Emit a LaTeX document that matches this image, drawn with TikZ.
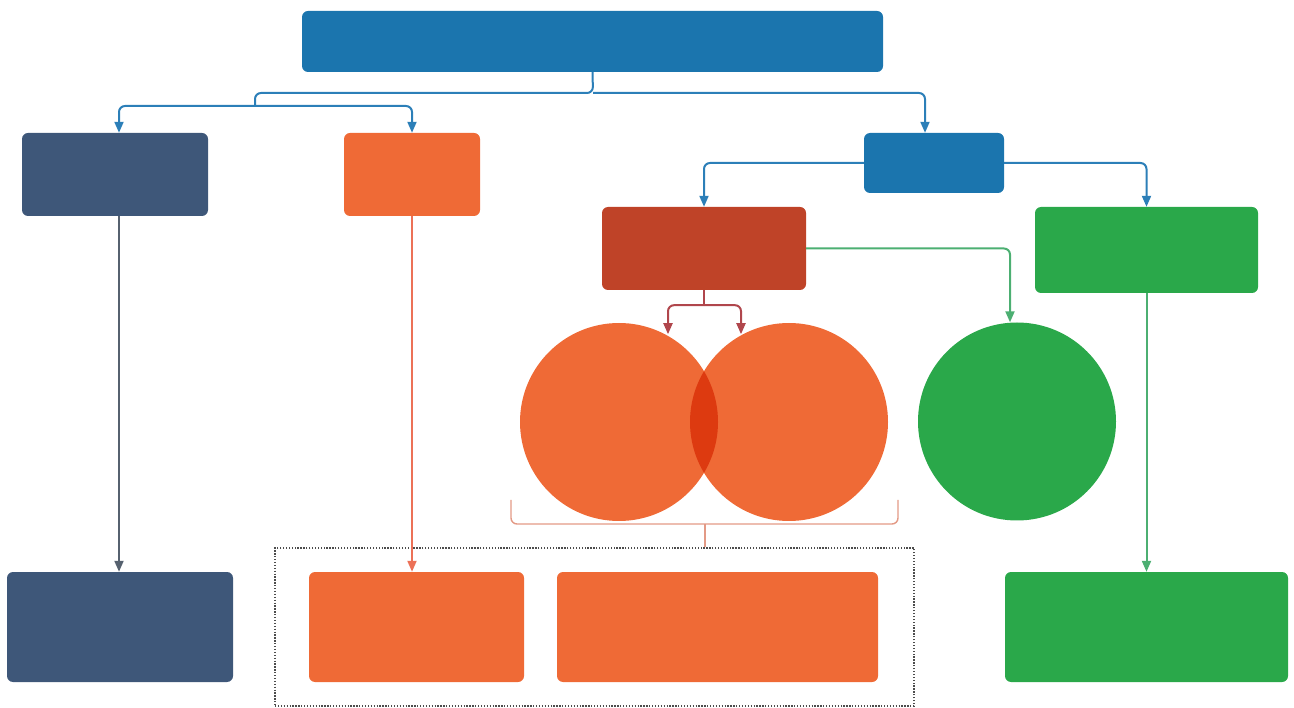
\documentclass[tikz,border=0pt]{standalone}
\usetikzlibrary{arrows.meta}
\definecolor{topblue}{HTML}{1B75AE}
\definecolor{slate}{HTML}{3E5779}
\definecolor{tang}{HTML}{EF6A36}
\definecolor{brick}{HTML}{BF4328}
\definecolor{leaf}{HTML}{2AA84A}
\definecolor{lens}{HTML}{DD3A10}
\definecolor{blueln}{HTML}{2C7FB8}
\definecolor{slateln}{HTML}{56616F}
\definecolor{tangln}{HTML}{EC7157}
\definecolor{leafln}{HTML}{4CAF72}
\definecolor{brickln}{HTML}{B0464C}
\definecolor{brackln}{HTML}{E39A86}
\tikzset{
  box/.style={rounded corners=6pt, inner sep=0pt},
  disc/.style={circle, inner sep=0pt, minimum size=198pt},
  link/.style={line width=2pt, rounded corners=6pt, -{Triangle[length=11pt,width=9pt]}},
  plain/.style={line width=2pt, rounded corners=6pt}
}
\begin{document}
\begin{tikzpicture}[x=1pt,y=-1pt]
\useasboundingbox (0,0) rectangle (1294,708);
% boxes
\node[box, fill=topblue, minimum width=581pt, minimum height=61pt] (top) at (592.5,41.5) {};
\node[box, fill=slate, minimum width=186pt, minimum height=83pt] (lft) at (115,174.5) {};
\node[box, fill=tang, minimum width=136pt, minimum height=83pt] (mid) at (412,174.5) {};
\node[box, fill=topblue, minimum width=140pt, minimum height=60pt] (hub) at (934,163) {};
\node[box, fill=brick, minimum width=204pt, minimum height=83pt] (red) at (704,248.5) {};
\node[box, fill=leaf, minimum width=223pt, minimum height=86pt] (grn) at (1146.5,250) {};
% circles
\node[disc, fill=tang] (circL) at (619,422) {};
\node[disc, fill=tang] (circR) at (789,422) {};
\begin{scope}
  \clip (619,422) circle (99);
  \fill[lens] (789,422) circle (99);
\end{scope}
\node[disc, fill=leaf] (circG) at (1017,421.5) {};
% bottom row
\node[draw=black!70, line width=1.4pt, dash pattern=on 1.3pt off 1.6pt,
  minimum width=639pt, minimum height=158pt, inner sep=0pt] (grp) at (594.5,627) {};
\node[box, fill=slate, minimum width=226pt, minimum height=110pt] (botL) at (120,627) {};
\node[box, fill=tang, minimum width=215pt, minimum height=110pt] (botM) at (416.5,627) {};
\node[box, fill=tang, minimum width=321pt, minimum height=110pt] (botW) at (717.5,627) {};
\node[box, fill=leaf, minimum width=283pt, minimum height=110pt] (botR) at (1146.5,627) {};
% connectors
\coordinate (split) at (593,93);
\coordinate (fork) at (255,106);
\draw[plain, blueln] (top.south) -- (split) -- (255,93) -- (fork);
\draw[link, blueln] (fork) -| ([xshift=4pt]lft.north);
\draw[link, blueln] (fork) -| (mid.north);
\draw[link, blueln] (split) -| ([xshift=-9pt]hub.north);
\draw[link, blueln] (hub.west) -| (red.north);
\draw[link, blueln] (hub.east) -| (grn.north);
\draw[link, slateln] ([xshift=4pt]lft.south) -- ([xshift=4pt]lft.south |- botL.north);
\draw[link, tangln] (mid.south) -- (mid.south |- botM.north);
\draw[link, leafln] (grn.south) -- (grn.south |- botR.north);
\draw[link, leafln] (red.east) -| ([xshift=-7pt]circG.north);
\coordinate (rfork) at ([yshift=-15pt]red.south);
\draw[plain, brickln] (red.south) -- (rfork);
\draw[link, brickln] (rfork) -| ([xshift=-36pt,yshift=-29pt]rfork);
\draw[link, brickln] (rfork) -| ([xshift=37pt,yshift=-29pt]rfork);
% bracket under the circles
\coordinate (brk) at (705,524);
\draw[plain, brackln, line width=1.4pt] (511,500) -- (511,524) -- (898,524) -- (898,500);
\draw[brackln, line width=1.4pt] (brk) -- (brk |- grp.north);
\end{tikzpicture}
\end{document}
